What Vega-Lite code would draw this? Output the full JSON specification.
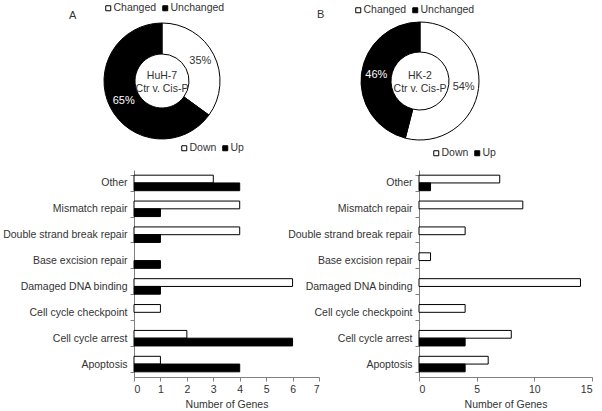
{
  "$schema": "https://vega.github.io/schema/vega-lite/v6.json",
  "autosize": "none",
  "padding": {"left": 134, "top": 31, "right": 468, "bottom": 380},
  "background": "white",
  "columns": 2,
  "bounds": "flush",
  "spacing": {"row": 39, "column": 100},
  "resolve": {
    "scale": {"color": "independent", "theta": "independent", "x": "independent", "y": "independent", "yOffset": "independent"},
    "legend": {"color": "independent"}
  },
  "datasets": {
    "pieA": [
      {"status": "Changed", "share": 0.35},
      {"status": "Unchanged", "share": 0.65}
    ],
    "pieB": [
      {"status": "Changed", "share": 0.54},
      {"status": "Unchanged", "share": 0.46}
    ],
    "barsA": [
      {"category": "Other", "direction": "Down", "genes": 3},
      {"category": "Other", "direction": "Up", "genes": 4},
      {"category": "Mismatch repair", "direction": "Down", "genes": 4},
      {"category": "Mismatch repair", "direction": "Up", "genes": 1},
      {"category": "Double strand break repair", "direction": "Down", "genes": 4},
      {"category": "Double strand break repair", "direction": "Up", "genes": 1},
      {"category": "Base excision repair", "direction": "Up", "genes": 1},
      {"category": "Damaged DNA binding", "direction": "Down", "genes": 6},
      {"category": "Damaged DNA binding", "direction": "Up", "genes": 1},
      {"category": "Cell cycle checkpoint", "direction": "Down", "genes": 1},
      {"category": "Cell cycle arrest", "direction": "Down", "genes": 2},
      {"category": "Cell cycle arrest", "direction": "Up", "genes": 6},
      {"category": "Apoptosis", "direction": "Down", "genes": 1},
      {"category": "Apoptosis", "direction": "Up", "genes": 4}
    ],
    "barsB": [
      {"category": "Other", "direction": "Down", "genes": 7},
      {"category": "Other", "direction": "Up", "genes": 1},
      {"category": "Mismatch repair", "direction": "Down", "genes": 9},
      {"category": "Double strand break repair", "direction": "Down", "genes": 4},
      {"category": "Base excision repair", "direction": "Down", "genes": 1},
      {"category": "Damaged DNA binding", "direction": "Down", "genes": 14},
      {"category": "Cell cycle checkpoint", "direction": "Down", "genes": 4},
      {"category": "Cell cycle arrest", "direction": "Down", "genes": 8},
      {"category": "Cell cycle arrest", "direction": "Up", "genes": 4},
      {"category": "Apoptosis", "direction": "Down", "genes": 6},
      {"category": "Apoptosis", "direction": "Up", "genes": 4}
    ]
  },
  "config": {
    "font": "Liberation Sans",
    "view": {"stroke": null},
    "axis": {
      "labelFont": "Liberation Sans",
      "labelFontSize": 10.5,
      "labelColor": "#333333",
      "titleFont": "Liberation Sans",
      "titleFontSize": 10.5,
      "titleFontWeight": "normal",
      "titleColor": "#333333",
      "domainColor": "#808080",
      "tickColor": "#808080",
      "grid": false,
      "tickSize": 4,
      "labelPadding": 3
    },
    "legend": {
      "labelFont": "Liberation Sans",
      "labelFontSize": 10.5,
      "labelColor": "#333333",
      "symbolType": "square",
      "symbolStrokeColor": "black",
      "symbolStrokeWidth": 1,
      "symbolSize": 25,
      "labelOffset": 0,
      "columnPadding": 3,
      "gridAlign": "none"
    },
    "title": {"font": "Liberation Sans", "fontSize": 11, "fontWeight": "normal", "color": "#333333"}
  },
  "concat": [
    {
      "width": 56,
      "height": 100,
      "title": {"text": "A", "anchor": "start", "frame": "group", "dx": -65, "dy": 18, "offset": 0},
      "data": {"name": "pieA"},
      "layer": [
        {
          "mark": {"type": "arc", "outerRadius": 58, "innerRadius": 27, "stroke": "black", "strokeWidth": 1},
          "encoding": {
            "theta": {"field": "share", "type": "quantitative", "stack": true},
            "order": {"field": "status", "type": "ordinal", "sort": "ascending"},
            "color": {
              "field": "status", "type": "nominal",
              "scale": {"domain": ["Changed", "Unchanged"], "range": ["white", "black"]},
              "legend": {"title": null, "orient": "none", "direction": "horizontal", "legendX": -31, "legendY": -28}
            }
          }
        },
        {
          "mark": {"type": "text", "radius": 43, "fontSize": 11},
          "encoding": {
            "theta": {"field": "share", "type": "quantitative", "stack": true},
            "order": {"field": "status", "type": "ordinal", "sort": "ascending"},
            "detail": {"field": "status", "type": "nominal"},
            "text": {"field": "share", "type": "quantitative", "format": ".0%"},
            "color": {"condition": {"test": "datum.status === 'Unchanged'", "value": "white"}, "value": "#333333"}
          }
        },
        {
          "data": {"values": [{"label": "HuH-7\nCtr v. Cis-P"}]},
          "mark": {"type": "text", "fontSize": 10.5, "lineBreak": "\n", "lineHeight": 13, "fill": "#333333", "dy": -5},
          "encoding": {"text": {"field": "label", "type": "nominal"}}
        }
      ]
    },
    {
      "width": 2,
      "height": 100,
      "title": {"text": "B", "anchor": "start", "frame": "group", "dx": -102, "dy": 15, "offset": 0},
      "data": {"name": "pieB"},
      "layer": [
        {
          "mark": {"type": "arc", "outerRadius": 59, "innerRadius": 29, "stroke": "black", "strokeWidth": 1},
          "encoding": {
            "theta": {"field": "share", "type": "quantitative", "stack": true},
            "order": {"field": "status", "type": "ordinal", "sort": "ascending"},
            "color": {
              "field": "status", "type": "nominal",
              "scale": {"domain": ["Changed", "Unchanged"], "range": ["white", "black"]},
              "legend": {"title": null, "orient": "none", "direction": "horizontal", "legendX": -66, "legendY": -26}
            }
          }
        },
        {
          "mark": {"type": "text", "radius": 44, "fontSize": 11},
          "encoding": {
            "theta": {"field": "share", "type": "quantitative", "stack": true},
            "order": {"field": "status", "type": "ordinal", "sort": "ascending"},
            "detail": {"field": "status", "type": "nominal"},
            "text": {"field": "share", "type": "quantitative", "format": ".0%"},
            "color": {"condition": {"test": "datum.status === 'Unchanged'", "value": "white"}, "value": "#333333"}
          }
        },
        {
          "data": {"values": [{"label": "HK-2\nCtr v. Cis-P"}]},
          "mark": {"type": "text", "fontSize": 10.5, "lineBreak": "\n", "lineHeight": 13, "fill": "#333333", "dy": -5},
          "encoding": {"text": {"field": "label", "type": "nominal"}}
        }
      ]
    },
    {
      "width": 185,
      "height": 207,
      "data": {"name": "barsA"},
      "mark": {"type": "bar", "stroke": "black", "strokeWidth": 1},
      "encoding": {
        "y": {
          "field": "category", "type": "nominal",
          "sort": ["Other", "Mismatch repair", "Double strand break repair", "Base excision repair", "Damaged DNA binding", "Cell cycle checkpoint", "Cell cycle arrest", "Apoptosis"],
          "scale": {"paddingInner": 0.4, "paddingOuter": 0.2},
          "axis": {"title": null, "tickBand": "extent"}
        },
        "yOffset": {"field": "direction", "type": "nominal", "scale": {"domain": ["Down", "Up"], "padding": 0}},
        "x": {
          "field": "genes", "type": "quantitative",
          "scale": {"domain": [0, 7], "nice": false},
          "axis": {"title": "Number of Genes", "values": [0, 1, 2, 3, 4, 5, 6, 7], "titlePadding": 5}
        },
        "color": {
          "field": "direction", "type": "nominal",
          "scale": {"domain": ["Down", "Up"], "range": ["white", "black"]},
          "legend": {"title": null, "orient": "none", "direction": "horizontal", "legendX": 45, "legendY": -27}
        }
      }
    },
    {
      "width": 173,
      "height": 207,
      "data": {"name": "barsB"},
      "mark": {"type": "bar", "stroke": "black", "strokeWidth": 1},
      "encoding": {
        "y": {
          "field": "category", "type": "nominal",
          "sort": ["Other", "Mismatch repair", "Double strand break repair", "Base excision repair", "Damaged DNA binding", "Cell cycle checkpoint", "Cell cycle arrest", "Apoptosis"],
          "scale": {"paddingInner": 0.4, "paddingOuter": 0.2},
          "axis": {"title": null, "tickBand": "extent"}
        },
        "yOffset": {"field": "direction", "type": "nominal", "scale": {"domain": ["Down", "Up"], "padding": 0}},
        "x": {
          "field": "genes", "type": "quantitative",
          "scale": {"domain": [0, 15], "nice": false},
          "axis": {"title": "Number of Genes", "values": [0, 5, 10, 15], "titlePadding": 5}
        },
        "color": {
          "field": "direction", "type": "nominal",
          "scale": {"domain": ["Down", "Up"], "range": ["white", "black"]},
          "legend": {"title": null, "orient": "none", "direction": "horizontal", "legendX": 12, "legendY": -22}
        }
      }
    }
  ]
}
